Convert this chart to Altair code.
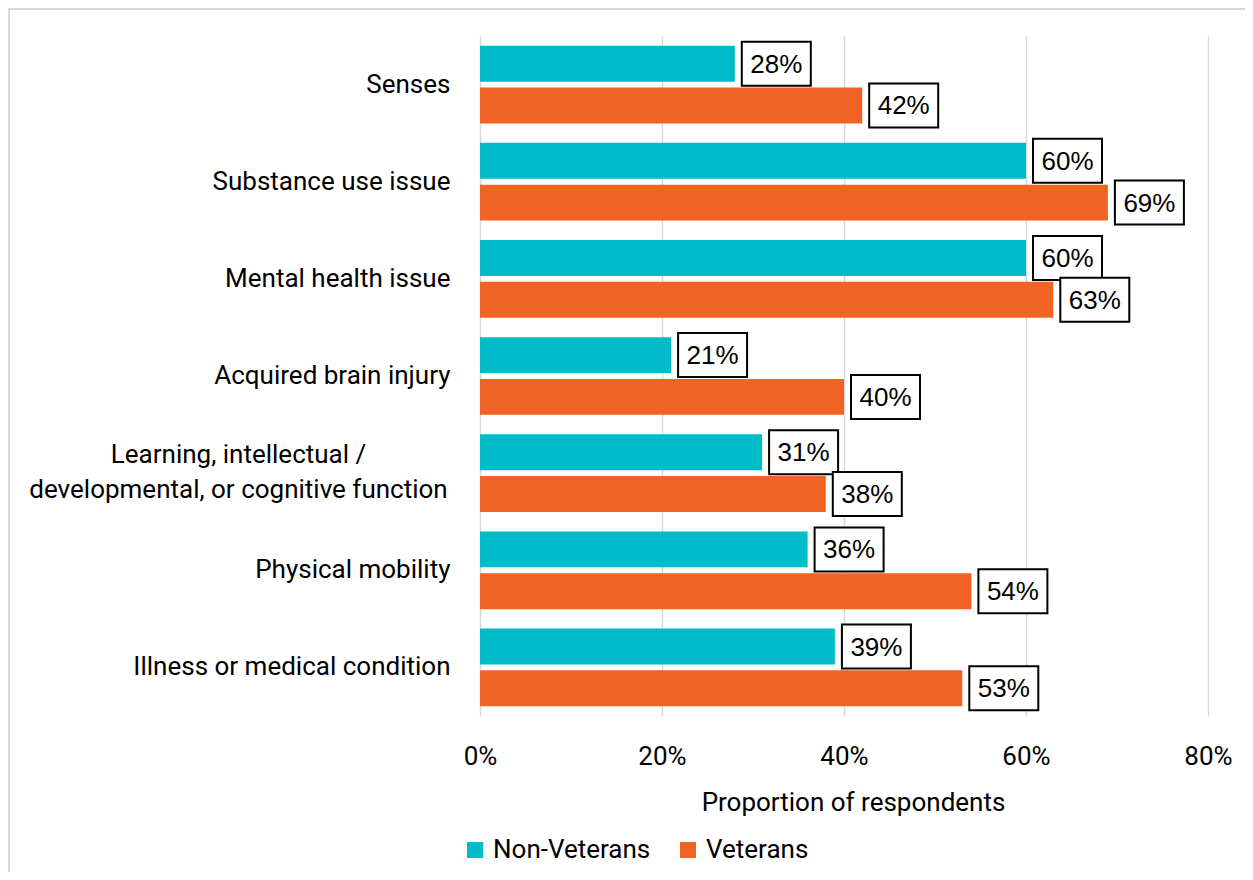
import altair as alt
import pandas as pd

categories = [
    "Senses",
    "Substance use issue",
    "Mental health issue",
    "Acquired brain injury",
    "Learning, intellectual / developmental, or cognitive function",
    "Physical mobility",
    "Illness or medical condition",
]
series = ["Non-Veterans", "Veterans"]
non_veterans = [0.28, 0.60, 0.60, 0.21, 0.31, 0.36, 0.39]
veterans = [0.42, 0.69, 0.63, 0.40, 0.38, 0.54, 0.53]
colors = ["#00BCC8", "#F16324"]
x_ticks = [0, 0.2, 0.4, 0.6, 0.8]

rows = []
for i, c in enumerate(categories):
    rows.append({"category": c, "group": series[0], "value": non_veterans[i]})
    rows.append({"category": c, "group": series[1], "value": veterans[i]})
df = pd.DataFrame(rows)

LONG = categories[4]
test = f"datum.value == '{LONG}'"

y_enc = alt.Y(
    "category:N",
    sort=categories,
    scale=alt.Scale(paddingInner=0.2, paddingOuter=0.1),
    axis=alt.Axis(
        title=None,
        ticks=False,
        domain=False,
        grid=False,
        labelFontSize=26,
        labelColor="#000000",
        labelLimit=600,
        labelLineHeight=35,
        labelExpr=f"{test} ? ['Learning, intellectual /', 'developmental, or cognitive function'] : datum.label",
        labelAlign={"condition": {"test": test, "value": "center"}, "value": "right"},
        labelPadding={"condition": {"test": test, "value": 242}, "value": 30},
        labelOffset={"condition": {"test": test, "value": -18}, "value": 0},
    ),
)
yoff_enc = alt.YOffset("group:N", sort=series, scale=alt.Scale(paddingInner=0.14, paddingOuter=0))
x_enc = alt.X(
    "value:Q",
    scale=alt.Scale(domain=[0, 0.8], nice=False),
    axis=alt.Axis(
        format="%",
        values=x_ticks,
        grid=True,
        gridColor="#d9d9d9",
        gridWidth=1.5,
        ticks=False,
        domain=False,
        labelFlush=False,
        labelFontSize=26,
        labelColor="#000000",
        labelPadding=27,
        title="Proportion of respondents",
        titleFontSize=26,
        titleFontWeight="normal",
        titleColor="#000000",
        titleX=373,
        titleY=94,
        titleAlign="center",
        titleBaseline="alphabetic",
    ),
)

base = alt.Chart(df)

bars = base.mark_bar().encode(
    y=y_enc,
    yOffset=yoff_enc,
    x=x_enc,
    color=alt.Color(
        "group:N",
        sort=series,
        scale=alt.Scale(domain=series, range=colors),
        legend=alt.Legend(
            orient="none",
            legendX=-18,
            legendY=801,
            direction="horizontal",
            title=None,
            symbolType="square",
            symbolSize=256,
            symbolStrokeWidth=0,
            labelFontSize=26,
            labelColor="#000000",
            labelOffset=5,
            columnPadding=24,
            labelLimit=400,
        ),
    ),
)

box_path = "M-1,-0.638L1,-0.638L1,0.638L-1,0.638Z"
boxes = base.mark_point(
    shape=box_path,
    size=4761,
    filled=True,
    fill="white",
    stroke="black",
    strokeWidth=2,
    opacity=1,
    xOffset=41.5,
).encode(y=alt.Y("category:N", sort=categories), yOffset=alt.YOffset("group:N", sort=series), x="value:Q")

labels = base.mark_text(
    font="Liberation Sans",
    fontSize=26,
    color="black",
    align="center",
    baseline="middle",
    xOffset=41.5,
    dy=1,
).encode(
    y=alt.Y("category:N", sort=categories),
    yOffset=alt.YOffset("group:N", sort=series),
    x="value:Q",
    text=alt.Text("value:Q", format=".0%"),
)

frame = alt.Chart(alt.Data(values=[{"a": 1}])).mark_rect(
    fill=None, stroke="#d9d9d9", strokeWidth=2
).encode(
    x=alt.value(-471), x2=alt.value(800), y=alt.value(-27), y2=alt.value(900)
)

chart = (
    alt.layer(frame, bars, boxes, labels)
    .properties(
        width=728,
        height=680,
        autosize=alt.AutoSizeParams(type="none"),
        padding={"left": 472, "top": 28, "right": 37, "bottom": 156},
        background="white",
    )
    .configure(font="Roboto")
    .configure_view(stroke=None)
)

chart.save("out.html", embed_options={"renderer": "svg", "actions": False})
